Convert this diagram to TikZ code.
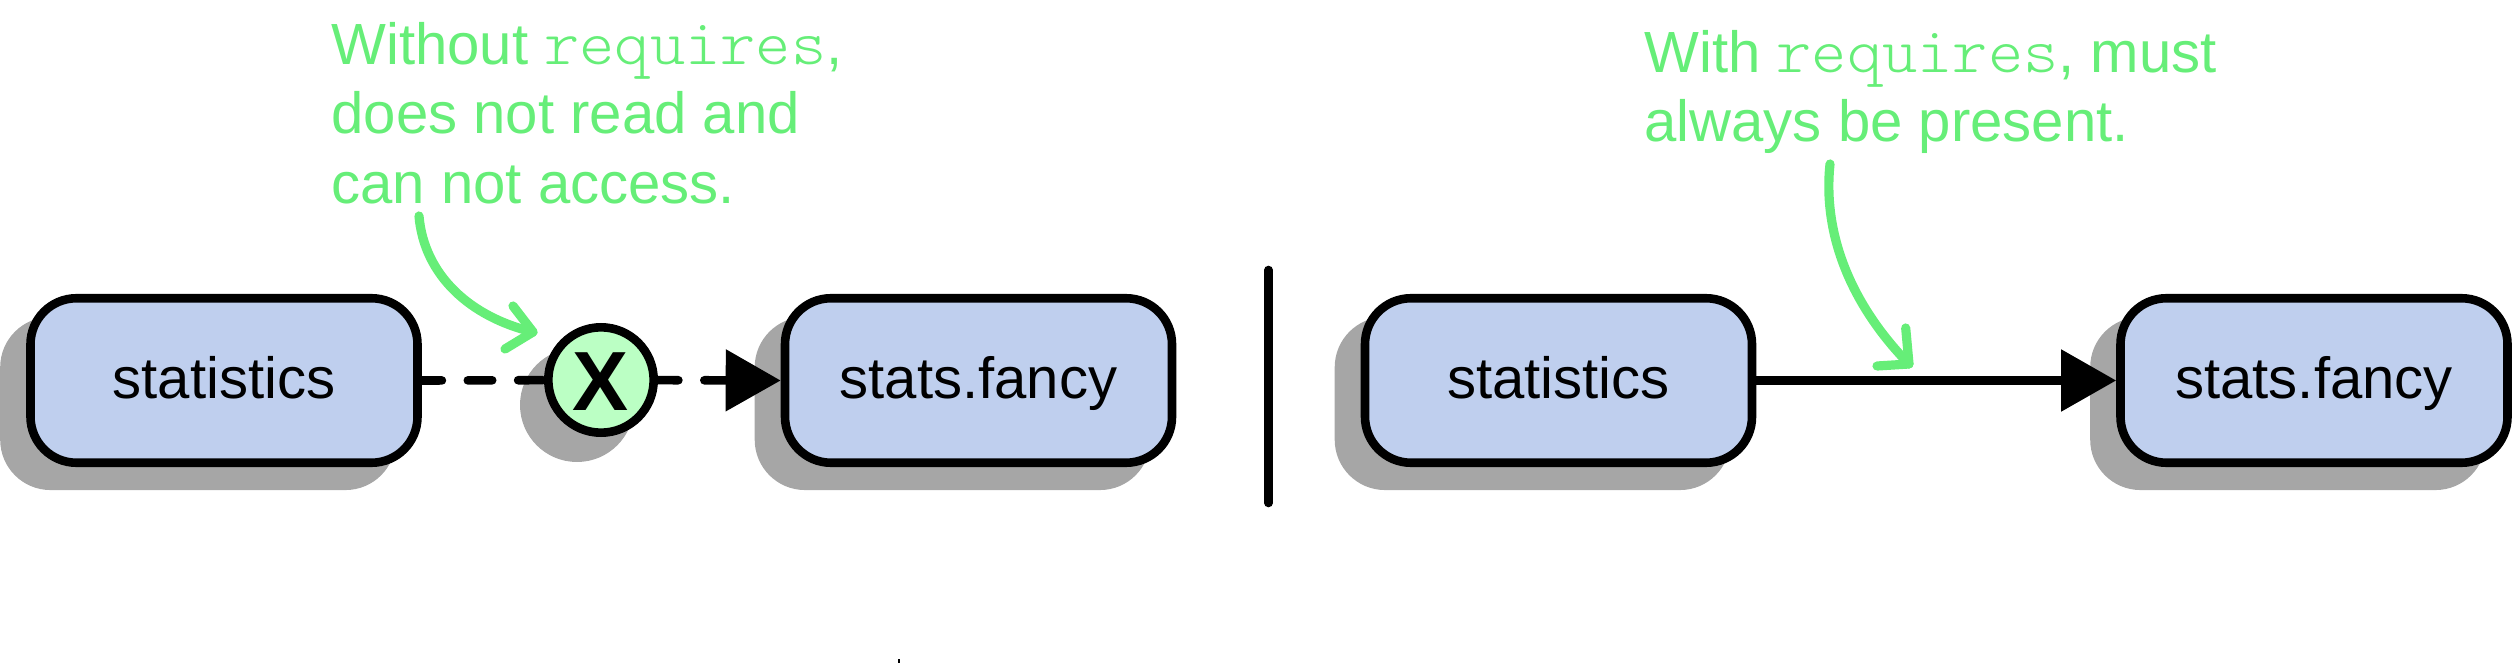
\documentclass[tikz,border=0pt]{standalone}
\usepackage{fontspec}
\setmainfont{Liberation Sans}
\newfontfamily\reqfont[FakeStretch=1.04]{Latin Modern Mono Light}
\usetikzlibrary{arrows.meta,shadows}
\definecolor{boxfill}{HTML}{BFCFEE}
\definecolor{shadowc}{HTML}{A6A6A6}
\definecolor{notegreen}{HTML}{66EE78}
\definecolor{xfill}{HTML}{BBFFC4}
\pgfdeclarelayer{back}
\pgfdeclarelayer{front}
\pgfsetlayers{back,main,front}
\newcommand{\reqtt}{{\fontsize{32.25}{34.8}\selectfont\reqfont requires}}
\tikzset{
  modbox/.style={draw=black,line width=4.3pt,fill=boxfill,rectangle,rounded corners=23pt,
    minimum width=193.5pt,minimum height=82.25pt,inner sep=0pt,
    font=\fontsize{29.05}{34}\selectfont,text height=18.5pt,text depth=0pt,
    general shadow={shadow xshift=-13pt,shadow yshift=-11.5pt,fill=shadowc,draw=shadowc}},
  xnode/.style={circle,draw=black,line width=4.3pt,fill=xfill,minimum size=52.7pt,inner sep=0pt,
    font=\fontsize{42}{42}\selectfont\bfseries,text height=30pt,text depth=0pt},
  xshadow/.style={circle,fill=shadowc,minimum size=57pt,inner sep=0pt},
  link/.style={line width=4.3pt,draw=black},
  headlink/.style={link,-{Triangle[length=27.5pt,width=30pt]}},
  dashlink/.style={line cap=round,dash pattern=on 12.2pt off 12.95pt},
  note/.style={text=notegreen,font=\fontsize{29.05}{34.8}\selectfont,align=left,inner sep=0pt},
  notecurve/.style={draw=notegreen,line width=4.6pt,line cap=round,line join=round},
}
\begin{document}
\begin{tikzpicture}[x=0.5pt,y=-0.5pt]
\useasboundingbox (0,0) rectangle (2513,663);
% boxes
\node[modbox] (s1) at (224,380.5) {statistics};
\node[modbox] (f1) at (978.5,380.5) {stats.fancy};
\node[modbox] (s2) at (1558.5,380.5) {statistics};
\node[modbox] (f2) at (2314,380.5) {stats.fancy};
% blocked marker
\begin{pgfonlayer}{back}
  \node[xshadow] (xs) at (577,405) {};
\end{pgfonlayer}
\begin{pgfonlayer}{front}
  \node[xnode] (x) at (601,380) {X};
\end{pgfonlayer}
% connectors
\draw[link,dashlink,dash phase=2.15pt] (s1.east) -- (x.center);
\draw[headlink,dashlink,dash phase=23.8pt] (x.center) -- (f1.west);
\draw[headlink] (s2.east) -- (f2.west);
% divider
\coordinate (d1) at (1268.5,270);
\coordinate (d2) at (1268.5,503);
\draw[link,line cap=round] (d1) -- (d2);
% notes
\node[note,anchor=base west] (n1) at (331,203.5) {Without \reqtt,\\does not read and\\can not access.};
\node[note,anchor=base west] (n2) at (1644,142) {With \reqtt, must\\always be present.};
% note arrows
\coordinate (a1) at (419,216);
\coordinate (a1t) at (533,332);
\coordinate (a1u) at (513,306);
\coordinate (a1d) at (505,349);
\draw[notecurve] (a1) .. controls (424,275) and (470,317) .. (a1t);
\draw[notecurve] (a1u) -- (a1t) -- (a1d);
\coordinate (a2) at (1830,164);
\coordinate (a2t) at (1909,364);
\coordinate (a2u) at (1905.7,328);
\coordinate (a2d) at (1877,366);
\draw[notecurve] (a2) .. controls (1822,240) and (1856,310) .. (a2t);
\draw[notecurve] (a2u) -- (a2t) -- (a2d);
% stray speck
\fill[black] (898.3,659) rectangle (900,663);
\end{tikzpicture}
\end{document}
